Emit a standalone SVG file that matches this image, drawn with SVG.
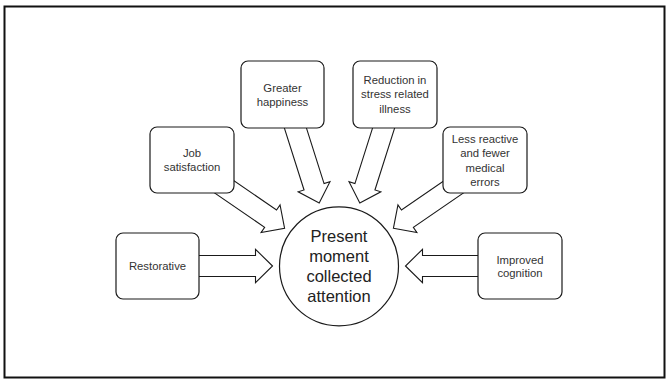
<svg xmlns="http://www.w3.org/2000/svg" width="668" height="380" viewBox="0 0 668 380">
  <style>
    .frame { fill: #ffffff; stroke: #111111; stroke-width: 2; }
    .box { fill: #ffffff; stroke: #1a1a1a; stroke-width: 1.2; }
    .hub { fill: #ffffff; stroke: #1a1a1a; stroke-width: 1.2; }
    .arrow { fill: #ffffff; stroke: #1a1a1a; stroke-width: 1.1; stroke-linejoin: miter; }
    .lbl { font-family: "Liberation Sans", Arial, sans-serif; font-size: 11.3px; fill: #333333; text-anchor: middle; }
    .hubtxt { font-family: "Liberation Sans", Arial, sans-serif; font-size: 16.5px; fill: #222222; text-anchor: middle; }
  </style>
  <defs>
    <!-- block arrow, tip at origin pointing along +x -->
    <path id="arrowShort" d="M0,0 L-17,-16.7 L-17,-10.5 L-76,-10.5 L-76,10.5 L-17,10.5 L-17,16.7 Z"/>
    <path id="arrowLong" d="M0,0 L-17,-16.7 L-17,-10.5 L-88,-10.5 L-88,10.5 L-17,10.5 L-17,16.7 Z"/>
  </defs>

  <rect class="frame" x="4.5" y="6.5" width="660" height="371"/>

  <!-- block arrows pointing at the hub -->
  <g id="connectors">
    <use class="arrow" href="#arrowShort" transform="translate(272.5,266)"/>
    <use class="arrow" href="#arrowLong" transform="translate(284.6,228.3) rotate(34.5)"/>
    <use class="arrow" href="#arrowLong" transform="translate(319.2,203) rotate(72.4)"/>
    <use class="arrow" href="#arrowLong" transform="translate(359.8,203) rotate(107.6)"/>
    <use class="arrow" href="#arrowLong" transform="translate(393.4,228.3) rotate(145.5)"/>
    <use class="arrow" href="#arrowShort" transform="translate(405.5,266) rotate(180)"/>
  </g>

  <g id="hub">
    <circle class="hub" cx="339" cy="266.3" r="59.5"/>
    <text class="hubtxt" x="339" y="241.7">Present</text>
    <text class="hubtxt" x="339" y="261.7">moment</text>
    <text class="hubtxt" x="339" y="281.7">collected</text>
    <text class="hubtxt" x="339" y="301.7">attention</text>
  </g>

  <g id="restorative">
    <rect class="box" x="116" y="233" width="83" height="66" rx="7"/>
    <text class="lbl" x="157.5" y="270">Restorative</text>
  </g>

  <g id="job-satisfaction">
    <rect class="box" x="150" y="127" width="84" height="66" rx="7"/>
    <text class="lbl" x="192" y="157">Job</text>
    <text class="lbl" x="192" y="171.3">satisfaction</text>
  </g>

  <g id="greater-happiness">
    <rect class="box" x="241" y="61" width="83" height="67" rx="7"/>
    <text class="lbl" x="282.5" y="91.7">Greater</text>
    <text class="lbl" x="282.5" y="106">happiness</text>
  </g>

  <g id="reduction-stress">
    <rect class="box" x="353" y="61" width="84" height="67" rx="7"/>
    <text class="lbl" x="395" y="83.5">Reduction in</text>
    <text class="lbl" x="395" y="98.2">stress related</text>
    <text class="lbl" x="395" y="112.9">illness</text>
  </g>

  <g id="less-reactive">
    <rect class="box" x="443" y="127" width="84" height="66" rx="7"/>
    <text class="lbl" x="485" y="142.5">Less reactive</text>
    <text class="lbl" x="485" y="157">and fewer</text>
    <text class="lbl" x="485" y="171.5">medical</text>
    <text class="lbl" x="485" y="186">errors</text>
  </g>

  <g id="improved-cognition">
    <rect class="box" x="478" y="233" width="84" height="66" rx="7"/>
    <text class="lbl" x="520" y="263.5">Improved</text>
    <text class="lbl" x="520" y="277">cognition</text>
  </g>
</svg>
